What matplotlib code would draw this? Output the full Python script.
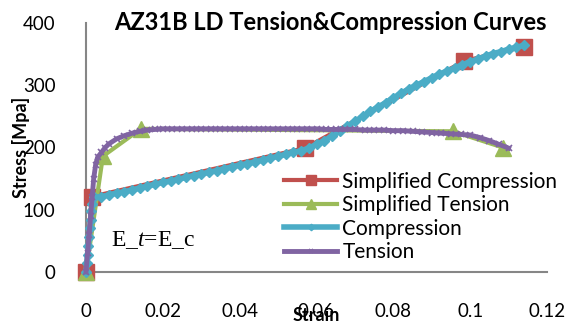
import matplotlib
matplotlib.use("Agg")
import matplotlib.pyplot as plt

plt.rcParams['font.family'] = ['Lato', 'DejaVu Sans']
plt.rcParams['mathtext.fontset'] = 'custom'
plt.rcParams['mathtext.rm'] = 'Liberation Serif'
plt.rcParams['mathtext.it'] = 'Liberation Serif:italic'

# simplified (bilinear-ish) curves
simp_comp_strain = [0, 0.0015, 0.057, 0.0985, 0.114]
simp_comp_stress = [0, 121, 199, 339, 362]
simp_ten_strain = [0, 0.0044, 0.0143, 0.0955, 0.1085]
simp_ten_stress = [0, 186, 230, 226, 200]

# measured compression curve
comp_strain = [0, 0.0002, 0.0004, 0.0006, 0.0008, 0.001, 0.0012, 0.0014, 0.0016, 0.002,
               0.004, 0.006, 0.008, 0.010, 0.012, 0.014, 0.016, 0.018, 0.020, 0.022,
               0.024, 0.026, 0.028, 0.030, 0.032, 0.034, 0.036, 0.038, 0.040, 0.042,
               0.044, 0.046, 0.048, 0.050, 0.052, 0.054, 0.056, 0.058, 0.060, 0.062,
               0.064, 0.066, 0.068, 0.070, 0.072, 0.074, 0.076, 0.078, 0.080, 0.082,
               0.084, 0.086, 0.088, 0.090, 0.092, 0.094, 0.096, 0.098, 0.100, 0.102,
               0.104, 0.106, 0.108, 0.110, 0.112, 0.114]
comp_stress = [0, 14, 28, 42, 56, 70, 84, 98, 110, 120,
               121, 124, 127, 129, 132, 135, 138, 141, 144, 146,
               149, 152, 155, 158, 160, 163, 166, 169, 172, 174,
               177, 180, 183, 186, 189, 192, 195, 199, 205, 211,
               218, 226, 234, 242, 250, 258, 265, 272, 280, 287,
               294, 300, 306, 312, 318, 323, 328, 333, 338, 342,
               347, 351, 354, 358, 361, 364]

# measured tension curve
ten_strain = [0, 0.0004, 0.0008, 0.0012, 0.0016, 0.002, 0.0025, 0.003, 0.004, 0.005,
              0.006, 0.008, 0.010, 0.012, 0.014, 0.016, 0.018, 0.020, 0.0225, 0.025,
              0.0275, 0.030, 0.0325, 0.035, 0.0375, 0.040, 0.0425, 0.045, 0.0475, 0.050,
              0.0525, 0.055, 0.0575, 0.060, 0.0625, 0.065, 0.0675, 0.070, 0.0725, 0.075,
              0.0775, 0.080, 0.0825, 0.085, 0.0875, 0.090, 0.0925, 0.095, 0.0975, 0.100,
              0.1025, 0.105, 0.1075, 0.110]
ten_stress = [0, 30, 60, 90, 120, 150, 172, 184, 192, 200,
              206, 214, 219, 223, 226, 228, 229, 230, 230, 230,
              230, 230, 230, 230, 230, 230, 230, 230, 230, 230,
              230, 230, 230, 230, 229, 229, 229, 229, 228, 228,
              228, 227, 227, 226, 225, 224, 223, 222, 221, 220,
              216, 211, 205, 199]

RED = '#C0504D'
GREEN = '#9BBB59'
CYAN = '#4BACC6'
PURPLE = '#8064A2'
GRAY = '#868686'

fig = plt.figure(figsize=(5.7, 3.28), dpi=100)
ax = fig.add_axes([86/570, 56/328, 461/570, 249/328])

ax.plot(simp_comp_strain, simp_comp_stress, color=RED, lw=3, marker='s', ms=12,
        label='Simplified Compression', clip_on=False, zorder=3)
ax.plot(simp_ten_strain, simp_ten_stress, color=GREEN, lw=3, marker='^', ms=12,
        label='Simplified Tension', clip_on=False, zorder=3)
ax.plot(comp_strain, comp_stress, color=CYAN, lw=4, marker='D', ms=5.5,
        label='Compression', clip_on=False, zorder=4)
ax.plot(ten_strain, ten_stress, color=PURPLE, lw=3.5, marker='x', ms=5, mew=1.2,
        label='Tension', clip_on=False, zorder=4)

ax.set_xlim(0, 0.12)
ax.set_ylim(0, 400)
ax.set_xticks([0, 0.02, 0.04, 0.06, 0.08, 0.1, 0.12])
ax.set_xticklabels(['0', '0.02', '0.04', '0.06', '0.08', '0.1', '0.12'])
ax.set_yticks([0, 100, 200, 300, 400])
ax.tick_params(length=0, labelsize=13.5, pad=22)
for s in ['top', 'right']:
    ax.spines[s].set_visible(False)
for s in ['left', 'bottom']:
    ax.spines[s].set_color(GRAY)
    ax.spines[s].set_linewidth(1.5)

ax.set_xlabel('Strain', fontsize=13, fontweight='bold', labelpad=-9)
ax.set_ylabel('Stress [Mpa]', fontsize=13, fontweight='bold', labelpad=-5)

fig.text(330/570, 1 - 22/328, 'AZ31B LD Tension&Compression Curves',
         fontsize=17, fontweight='bold', ha='center', va='center')
fig.text(111/570, 1 - 240/328, r'E_$t$=E_c', fontsize=17, family='Liberation Serif',
         ha='left', va='center')

leg = ax.legend(loc='center left', bbox_to_anchor=(284/570, 1 - 217/328),
                bbox_transform=fig.transFigure, frameon=False, fontsize=15,
                handlelength=2.55, handletextpad=0.25, labelspacing=0.17,
                borderpad=0, borderaxespad=0, markerscale=0.6)

fig.savefig('out.png', dpi=100)
